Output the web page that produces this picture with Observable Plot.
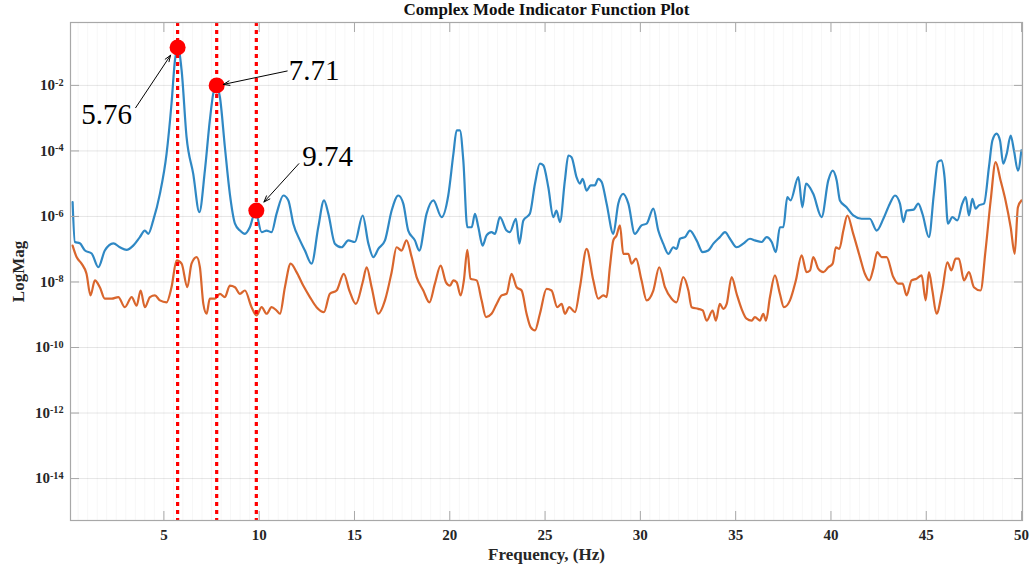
<!DOCTYPE html>
<html>
<head>
<meta charset="utf-8">
<script src="https://cdn.jsdelivr.net/npm/d3@7"></script>
<script src="https://cdn.jsdelivr.net/npm/@observablehq/plot@0.6"></script>
<style>
  html, body { margin: 0; padding: 0; background: #fff; }
  #chart svg { display: block; }
</style>
</head>
<body>
<div id="chart"></div>
<script>
// ---- Data (frequency in Hz, log10 of magnitude) ----
const blueFreq = [0.21,0.33,0.59,0.86,1.21,1.56,1.90,2.35,2.69,3.04,
  3.39,3.74,4.00,4.18,4.44,4.79,5.14,5.40,5.58,5.74,
  5.93,6.19,6.54,6.86,7.15,7.41,7.59,7.76,7.94,8.20,
  8.46,8.73,8.99,9.25,9.51,9.80,10.13,10.39,10.65,10.91,
  11.27,11.53,11.79,12.14,12.40,12.75,13.10,13.40,13.63,13.97,
  14.32,14.68,15.02,15.43,15.73,15.99,16.25,16.60,16.95,17.30,
  17.56,17.82,18.17,18.40,18.78,19.14,19.57,19.92,20.19,20.36,
  20.53,20.71,20.92,21.15,21.32,21.50,21.72,21.93,22.19,22.37,
  22.63,22.98,23.15,23.47,23.65,23.86,24.20,24.47,24.73,24.91,
  25.17,25.43,25.60,25.78,26.04,26.22,26.39,26.65,26.83,26.97,
  27.18,27.39,27.61,27.79,27.97,28.23,28.58,28.84,29.10,29.37,
  29.71,30.06,30.33,30.68,30.94,31.20,31.47,31.73,31.90,32.08,
  32.34,32.60,32.95,33.27,33.56,33.83,34.17,34.44,34.70,35.05,
  35.40,35.75,36.01,36.36,36.62,36.89,37.11,37.32,37.50,37.71,
  37.88,38.29,38.50,38.69,39.07,39.51,39.86,40.09,40.30,40.47,
  40.82,41.17,41.61,42.04,42.40,42.75,43.09,43.36,43.62,43.80,
  43.97,44.34,44.58,44.81,45.14,45.40,45.61,45.79,45.96,46.14,
  46.37,46.63,46.89,47.07,47.24,47.42,47.59,47.76,48.03,48.29,
  48.47,48.69,48.87,49.04,49.22,49.43,49.60,49.81,49.99];
const blueLog = [-5.56,-6.78,-6.82,-7.04,-7.13,-7.55,-7.04,-6.82,-6.94,-7.02,
  -6.89,-6.63,-6.43,-6.53,-6.12,-5.31,-4.09,-2.56,-1.24,-0.84,
  -1.54,-3.58,-4.70,-5.87,-4.60,-3.07,-2.25,-2.00,-2.36,-3.88,
  -5.31,-6.22,-6.43,-6.53,-6.33,-5.85,-6.48,-6.43,-6.48,-5.92,
  -5.36,-5.51,-6.22,-6.73,-7.04,-7.44,-6.33,-5.51,-5.92,-6.83,
  -6.94,-6.73,-6.78,-5.97,-6.83,-7.24,-6.99,-6.73,-5.82,-5.36,
  -5.61,-6.43,-6.73,-7.04,-5.92,-5.51,-6.02,-5.36,-4.09,-3.37,
  -3.37,-4.29,-6.33,-6.33,-5.92,-6.33,-6.89,-6.58,-6.48,-6.53,
  -6.02,-6.43,-6.48,-6.07,-6.83,-6.12,-5.92,-5.00,-4.39,-4.44,
  -5.11,-6.02,-5.82,-6.17,-4.90,-4.14,-4.19,-4.80,-5.00,-4.85,
  -5.21,-5.05,-5.05,-4.85,-4.95,-5.61,-6.53,-5.61,-5.31,-5.61,
  -6.53,-6.27,-6.22,-5.76,-6.43,-6.83,-7.14,-6.94,-6.99,-6.68,
  -6.63,-6.43,-6.73,-7.09,-7.04,-6.83,-6.63,-6.48,-6.68,-6.94,
  -6.83,-6.68,-6.73,-6.78,-6.63,-6.78,-7.09,-6.33,-6.33,-5.41,
  -5.51,-4.80,-5.72,-5.00,-5.31,-6.02,-4.90,-4.60,-4.90,-5.51,
  -5.72,-5.97,-6.07,-6.07,-6.43,-6.07,-5.61,-5.36,-5.61,-6.17,
  -5.82,-5.79,-5.61,-5.94,-6.63,-5.31,-4.34,-4.29,-4.80,-6.22,
  -6.02,-6.12,-5.61,-5.41,-5.97,-5.46,-5.76,-5.66,-5.61,-4.49,
  -3.68,-3.47,-3.68,-4.39,-4.09,-3.53,-3.98,-4.60,-3.98];

// orange series as [frequency, log10 magnitude]
const orangeSeries = [
  [0.21,-6.89],[0.42,-7.24],[0.68,-7.44],[0.94,-7.75],[1.15,-8.41],[1.38,-7.95],[1.64,-8.16],[1.90,-8.51],[2.26,-8.51],[2.61,-8.46],
  [2.95,-8.77],[3.31,-8.46],[3.57,-8.72],[3.78,-8.26],[4.00,-8.77],[4.27,-8.46],[4.53,-8.41],[4.79,-8.56],[5.14,-8.62],[5.40,-8.16],
  [5.67,-7.34],[5.93,-7.44],[6.23,-8.16],[6.45,-7.44],[6.72,-7.24],[6.89,-7.55],[7.07,-8.67],[7.24,-8.97],[7.41,-8.51],[7.68,-8.51],
  [7.94,-8.36],[8.20,-8.46],[8.46,-8.11],[8.73,-8.16],[8.99,-8.36],[9.25,-8.26],[9.60,-8.77],[9.86,-9.02],[10.13,-8.77],[10.39,-8.97],
  [10.65,-8.77],[10.91,-8.87],[11.09,-8.97],[11.35,-8.16],[11.65,-7.44],[11.96,-7.70],[12.31,-8.11],[12.66,-8.46],[13.01,-8.77],[13.40,-8.92],
  [13.71,-8.36],[14.06,-8.26],[14.44,-7.75],[14.73,-8.26],[15.07,-8.67],[15.43,-8.01],[15.64,-7.55],[15.90,-8.16],[16.25,-8.97],[16.60,-8.56],
  [16.95,-7.70],[17.21,-6.94],[17.47,-7.04],[17.73,-6.73],[18.00,-7.24],[18.26,-7.85],[18.61,-8.26],[18.93,-8.62],[19.22,-8.05],[19.52,-7.50],
  [19.80,-8.01],[20.01,-8.11],[20.19,-7.95],[20.36,-8.01],[20.57,-8.41],[20.74,-7.95],[20.92,-7.02],[21.09,-7.90],[21.41,-7.95],[21.67,-8.56],
  [21.90,-9.07],[22.19,-8.97],[22.46,-8.67],[22.72,-8.41],[22.98,-8.36],[23.24,-7.75],[23.51,-8.16],[23.77,-8.26],[24.03,-8.97],[24.24,-9.38],
  [24.47,-9.48],[24.73,-8.97],[25.08,-8.21],[25.34,-8.26],[25.64,-8.77],[25.87,-8.67],[26.04,-8.97],[26.27,-8.77],[26.57,-8.92],[26.83,-8.16],
  [27.18,-6.99],[27.53,-7.95],[27.79,-8.51],[28.06,-8.41],[28.23,-8.46],[28.40,-7.55],[28.58,-6.73],[28.75,-6.58],[28.93,-6.27],[29.10,-7.14],
  [29.37,-7.14],[29.54,-7.44],[29.77,-7.29],[30.06,-7.95],[30.33,-8.56],[30.68,-8.26],[30.99,-7.55],[31.29,-8.16],[31.64,-8.51],[31.90,-8.62],
  [32.25,-7.85],[32.52,-8.26],[32.69,-8.77],[33.04,-8.82],[33.27,-8.87],[33.48,-9.18],[33.79,-8.87],[33.96,-9.18],[34.17,-8.67],[34.35,-8.82],
  [34.53,-8.67],[34.79,-7.85],[35.05,-8.36],[35.31,-8.82],[35.57,-9.12],[35.84,-9.18],[36.01,-9.07],[36.27,-9.18],[36.45,-8.97],[36.59,-9.18],
  [36.80,-8.46],[37.06,-7.80],[37.32,-8.36],[37.53,-8.77],[37.85,-8.56],[38.16,-7.95],[38.46,-7.19],[38.72,-7.70],[38.90,-7.65],[39.07,-7.24],
  [39.34,-7.60],[39.60,-7.70],[39.86,-7.55],[40.09,-7.44],[40.26,-6.94],[40.44,-6.99],[40.65,-6.43],[40.86,-5.97],[41.17,-6.53],[41.52,-7.24],
  [41.78,-7.75],[42.01,-7.95],[42.22,-7.60],[42.43,-7.09],[42.66,-7.24],[42.92,-7.24],[43.27,-7.85],[43.53,-8.05],[43.76,-8.05],[43.97,-8.41],
  [44.23,-7.95],[44.49,-7.90],[44.76,-7.80],[44.97,-8.56],[45.14,-7.70],[45.32,-8.26],[45.54,-8.97],[45.84,-8.26],[46.11,-7.40],[46.32,-7.65],
  [46.54,-7.29],[46.71,-7.29],[46.98,-7.95],[47.24,-7.70],[47.50,-8.16],[47.85,-8.26],[48.11,-7.04],[48.38,-5.51],[48.64,-4.34],[48.90,-4.90],
  [49.16,-5.51],[49.43,-6.33],[49.64,-7.14],[49.81,-5.72],[50.00,-5.51]
];

// identified modes
const markerFreq = [5.72, 7.77, 9.85];
const markerLog = [-0.84, -2.00, -5.82];
const noteLabels = ["5.76", "7.71", "9.74"];
const noteFreq = [1.99, 12.88, 13.59];
const noteLog = [-2.90, -1.54, -4.17];
const arrowTailFreq = [3.52, 11.47, 12.08];
const arrowTailLog = [-2.68, -1.56, -4.39];
const arrowHeadFreq = [5.35, 8.12, 10.25];
const arrowHeadLog = [-1.08, -1.97, -5.56];

// axes
const xTicks = [5, 10, 15, 20, 25, 30, 35, 40, 45, 50];
const yTickExps = [-14, -12, -10, -8, -6, -4, -2];
const titleText = "Complex Mode Indicator Function Plot";
const xLabel = "Frequency, (Hz)";
const yLabel = "LogMag";

// ---- Build ----
const serif = "'Liberation Serif','Times New Roman',Times,serif";
const blueColor = "#2f88c4";
const orangeColor = "#d9662d";
const axisGray = "#a8a8a8";

const yTicks = yTickExps.map(e => Math.pow(10, e));
const minorX = d3.range(0.5, 50.01, 0.5);
const blue = blueFreq.map((f, i) => ({f, m: Math.pow(10, blueLog[i])}));
const orange = orangeSeries.map(([f, e]) => ({f, m: Math.pow(10, e)}));
const markers = markerFreq.map((f, i) => ({f, m: Math.pow(10, markerLog[i])}));
const notes = noteLabels.map((t, i) => ({t, f: noteFreq[i], m: Math.pow(10, noteLog[i])}));
const arrows = arrowTailFreq.map((f, i) => ({
  x1: f, y1: Math.pow(10, arrowTailLog[i]),
  x2: arrowHeadFreq[i], y2: Math.pow(10, arrowHeadLog[i])
}));

const chart = Plot.plot({
  width: 1032, height: 571,
  marginLeft: 70, marginRight: 10, marginTop: 22, marginBottom: 51,
  style: {fontFamily: serif, background: "#fff", color: "#262626"},
  x: {domain: [0.1, 50.05]},
  y: {type: "log", domain: [Math.pow(10, -15.28), Math.pow(10, -0.08)]},
  marks: [
    Plot.gridX(minorX, {stroke: "#000", strokeOpacity: 0.035}),
    Plot.gridY(yTicks, {stroke: "#000", strokeOpacity: 0.1}),
    Plot.line(orange, {x: "f", y: "m", stroke: orangeColor, strokeWidth: 2.2, curve: "monotone-x"}),
    Plot.line(blue, {x: "f", y: "m", stroke: blueColor, strokeWidth: 2.2, curve: "monotone-x"}),
    Plot.ruleX(markerFreq, {stroke: "#ff0000", strokeWidth: 3.2, strokeDasharray: "4,4"}),
    Plot.dot(markers, {x: "f", y: "m", r: 8, fill: "#ff0000", stroke: null}),
    Plot.arrow(arrows, {x1: "x1", y1: "y1", x2: "x2", y2: "y2", stroke: "#000", strokeWidth: 1, headLength: 10, headAngle: 40}),
    Plot.text(notes, {x: "f", y: "m", text: "t", fontSize: 29, fontFamily: serif, fill: "#000"}),
    Plot.frame({stroke: axisGray, strokeWidth: 1.2}),
    Plot.axisY(yTicks, {anchor: "left", tickSize: 0, tickPadding: 7, tickFormat: d => String(Math.round(Math.log10(d))), fontSize: 15, fontWeight: "bold", fill: "#262626", label: null}),
    Plot.axisY(yTicks, {anchor: "left", tickSize: -9, fill: "none", stroke: axisGray, label: null}),
    Plot.axisY(yTicks, {anchor: "right", tickSize: -9, fill: "none", stroke: axisGray, label: null}),
    Plot.axisX(xTicks, {anchor: "bottom", tickSize: 0, tickPadding: 9, fontSize: 15, fontWeight: "bold", fill: "#262626", label: null}),
    Plot.axisX(xTicks, {anchor: "bottom", tickSize: -9, fill: "none", stroke: axisGray, label: null}),
    Plot.axisX(xTicks, {anchor: "top", tickSize: -9, fill: "none", stroke: axisGray, label: null}),
    Plot.text([titleText], {frameAnchor: "top", textAnchor: "middle", lineAnchor: "bottom", dy: -8, fontSize: 17, fontWeight: "bold", fill: "#111"}),
    Plot.text([yLabel], {frameAnchor: "left", textAnchor: "middle", lineAnchor: "middle", dx: -52, rotate: -90, fontSize: 17, fontWeight: "bold", fill: "#262626"}),
    Plot.text([xLabel], {frameAnchor: "bottom", textAnchor: "middle", lineAnchor: "middle", dy: 34, fontSize: 17, fontWeight: "bold", fill: "#262626"})
  ]
});

// superscript exponents on the y tick labels
chart.querySelectorAll('g[aria-label="y-axis tick label"] text').forEach(t => {
  const exp = t.textContent;
  t.textContent = "10";
  const ts = document.createElementNS("http://www.w3.org/2000/svg", "tspan");
  ts.setAttribute("dy", "-0.45em");
  ts.setAttribute("font-size", "0.68em");
  ts.textContent = exp;
  t.appendChild(ts);
});

document.getElementById("chart").appendChild(chart);
</script>
</body>
</html>
